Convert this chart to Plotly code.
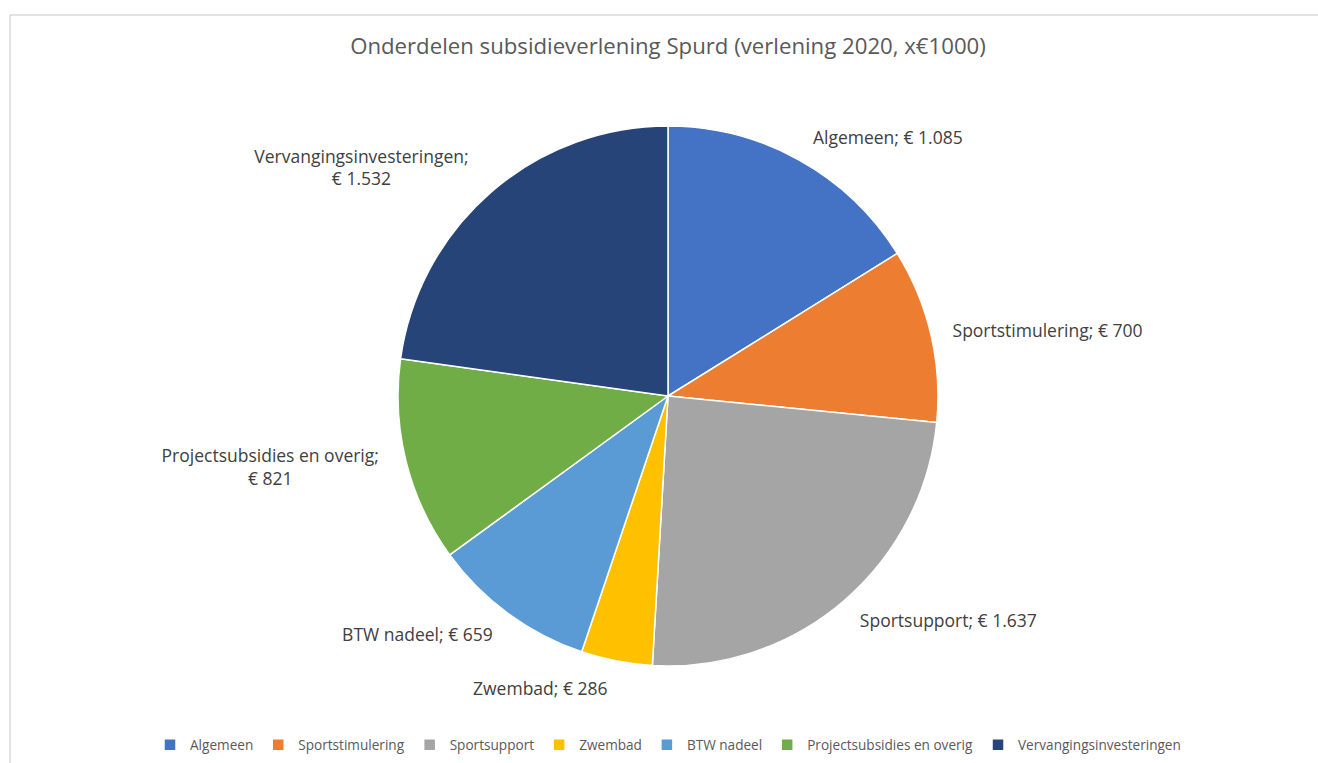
import plotly.graph_objects as go

categories = ["Algemeen", "Sportstimulering", "Sportsupport", "Zwembad",
              "BTW nadeel", "Projectsubsidies en overig", "Vervangingsinvesteringen"]
values = [1085, 700, 1637, 286, 659, 821, 1532]
colors = ["#4472C4", "#ED7D31", "#A5A5A5", "#FFC000", "#5B9BD5", "#70AD47", "#264478"]
title_text = "Onderdelen subsidieverlening Spurd (verlening 2020, x€1000)"
two_line = {"Projectsubsidies en overig", "Vervangingsinvesteringen"}

W, H = 1318, 763
cx, cy, r = 668, 396, 270
r_lab = r + 16  # labels sit a little away from the pie, as in the original

templates = [("%{label};<br>€ %{value:,}" if c in two_line else "%{label}; € %{value:,}")
             for c in categories]

FONT = "Open Sans"


def dom(rad):
    return dict(x=[(cx - rad) / W, (cx + rad) / W], y=[1 - (cy + rad) / H, 1 - (cy - rad) / H])


fig = go.Figure()
# invisible pie that only carries the data labels, slightly larger radius
fig.add_trace(go.Pie(
    labels=categories, values=values, sort=False, direction="clockwise", rotation=0,
    marker=dict(colors=["rgba(0,0,0,0)"] * len(values), line=dict(width=0)),
    texttemplate=templates, textposition="outside",
    textfont=dict(family=FONT, size=17.5, color="#404040"),
    hoverinfo="skip", showlegend=False, domain=dom(r_lab),
))
# visible pie
fig.add_trace(go.Pie(
    labels=categories, values=values, sort=False, direction="clockwise", rotation=0,
    marker=dict(colors=colors, line=dict(color="white", width=1.5)),
    textinfo="none", hoverinfo="label+value", showlegend=True, domain=dom(r),
))

fig.update_layout(
    width=W, height=H,
    margin=dict(l=0, r=0, t=0, b=0),
    paper_bgcolor="white",
    separators=",.",
    title=dict(text=title_text, x=668 / W, xanchor="center", y=1 - 46 / H, yanchor="middle",
               yref="container", xref="container",
               font=dict(family=FONT, size=22.2, color="#595959")),
    legend=dict(orientation="h", x=668 / W, xanchor="center", y=1 - 745 / H, yanchor="middle",
                font=dict(family=FONT, size=13.6, color="#595959"),
                itemwidth=30, traceorder="normal"),
    shapes=[
        dict(type="line", xref="paper", yref="paper", x0=10 / W, x1=1, y0=1 - 15 / H, y1=1 - 15 / H,
             line=dict(color="#D9D9D9", width=1.5)),
        dict(type="line", xref="paper", yref="paper", x0=10 / W, x1=10 / W, y0=1 - 15 / H, y1=0,
             line=dict(color="#D9D9D9", width=1.5)),
    ],
)

fig.write_html("out.html", config={"displayModeBar": False},
               post_script="document.body.style.margin='0';document.body.style.overflow='hidden';")
